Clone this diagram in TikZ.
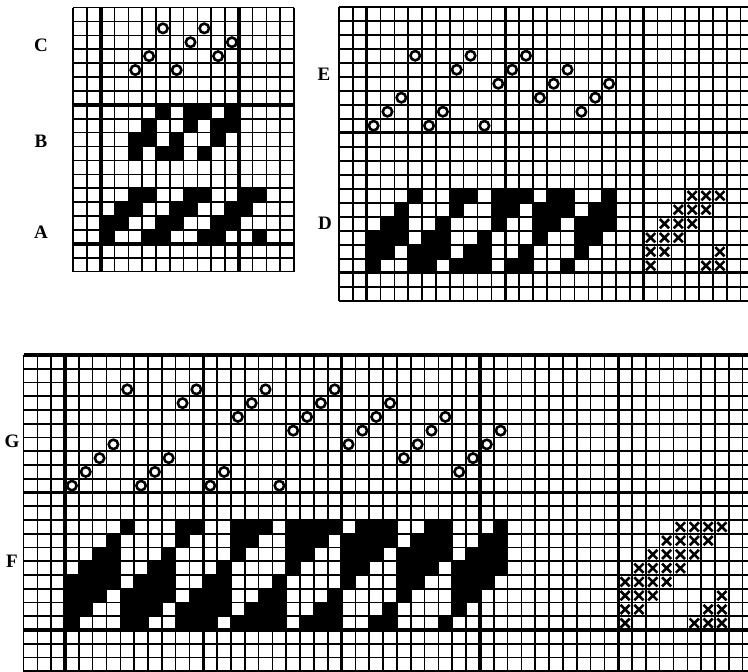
\documentclass[tikz,border=0pt]{standalone}
\usepackage{fontspec}
\setmainfont{Liberation Serif}
\begin{document}
\begin{tikzpicture}[
  x=0.5pt,
  y=-0.5pt,
  font=\bfseries\fontsize{9.5}{11}\selectfont,
  thinrule/.style={line width=0.8pt},
  thickrule/.style={line width=1.7pt},
  cell/.style={fill=black},
  ring/.style={draw, line width=1.3pt},
  cross/.style={draw, line width=1.3pt},
  letter/.style={inner sep=0pt}
]
\useasboundingbox (0,0) rectangle (748,671);

\foreach \i in {0,...,16} \draw[thinrule] ({73.2+13.8*\i},7.5) -- ({73.2+13.8*\i},271.6);
\foreach \j in {0,...,19} \draw[thinrule] (73.2,{7.5+13.9*\j}) -- (294,{7.5+13.9*\j});
\foreach \i in {2,12} \draw[thickrule] ({73.2+13.8*\i},7.5) -- ({73.2+13.8*\i},271.6);
\foreach \j in {7,17} \draw[thickrule] (73.2,{7.5+13.9*\j}) -- (294,{7.5+13.9*\j});
\foreach \r/\cols in {7/{4,6,7,9},8/{3,6,8,9},9/{2,3,5,8},10/{2,4,5,7},13/{2,3,6,7,10,11},14/{1,2,5,6,9,10},15/{0,1,4,5,8,9},16/{0,3,4,7,8,11}} {
  \foreach \c in \cols \fill[cell] ({100.8+13.8*\c},{7.5+13.9*\r}) rectangle ++(13.8,13.9);
}
\foreach \c/\r in {4/1,7/1,6/2,9/2,3/3,8/3,2/4,5/4}
  \draw[ring] ({100.8+13.8*(\c+0.5)},{7.5+13.9*(\r+0.5)}) circle[radius=4.7];

\foreach \i in {0,...,29} \draw[thinrule] ({339+13.85*\i},6.7) -- ({339+13.85*\i},300.7);
\foreach \j in {0,...,21} \draw[thinrule] (339,{6.7+14*\j}) -- (750,{6.7+14*\j});
\foreach \i in {2,12,22} \draw[thickrule] ({339+13.85*\i},6.7) -- ({339+13.85*\i},300.7);
\foreach \j in {9,19} \draw[thickrule] (339,{6.7+14*\j}) -- (750,{6.7+14*\j});
\foreach \r/\cols in {13/{3,6,7,9,10,11,13,14,17},14/{2,6,9,10,12,13,14,16,17},15/{1,2,5,9,12,13,15,16,17},16/{0,1,2,4,5,8,12,15,16},17/{0,1,3,4,5,7,8,11,15},18/{0,3,4,6,7,8,10,11,14}} {
  \foreach \c in \cols \fill[cell] ({366.7+13.85*\c},{6.7+14*\r}) rectangle ++(13.85,14);
}
\foreach \c/\s in {0/1,1/2,2/3,3/6,4/1,5/2,6/5,7/6,8/1,9/4,10/5,11/6,12/3,13/4,14/5,15/2,16/3,17/4}
  \draw[ring] ({366.7+13.85*(\c+0.5)},{6.7+14*(9.5-\s)}) circle[radius=4.7];
\foreach \r/\lift in {13/{4,5,6},14/{3,4,5},15/{2,3,4},16/{1,2,3},17/{1,2,6},18/{1,5,6}} {
  \foreach \s in \lift \draw[cross] ({366.7+13.85*(19.5+\s)},{6.7+14*(\r+0.5)}) ++(-4.6,-4.6) -- ++(9.2,9.2) ++(-9.2,0) -- ++(9.2,-9.2);
}

\foreach \i in {0,...,52} \draw[thinrule] ({23.5+13.83*\i},355) -- ({23.5+13.83*\i},672);
\foreach \j in {0,...,23} \draw[thinrule] (23.5,{355+13.75*\j}) -- (750,{355+13.75*\j});
\foreach \i in {3,13,23,33,43} \draw[thickrule] ({23.5+13.83*\i},355) -- ({23.5+13.83*\i},672);
\foreach \j in {0,10,20} \draw[thickrule] (23.5,{355+13.75*\j}) -- (750,{355+13.75*\j});
\foreach \r/\cols in {12/{4,8,9,12,13,14,16,17,18,19,21,22,23,26,27,31},13/{3,8,12,13,16,17,18,20,21,22,23,25,26,27,30,31},14/{2,3,7,12,16,17,20,21,22,24,25,26,27,29,30,31},15/{1,2,3,6,7,11,16,20,21,24,25,26,28,29,30,31},16/{0,1,2,3,5,6,7,10,11,15,20,24,25,28,29,30},17/{0,1,2,4,5,6,7,9,10,11,14,15,19,24,28,29},18/{0,1,4,5,6,8,9,10,11,13,14,15,18,19,23,28},19/{0,4,5,8,9,10,12,13,14,15,17,18,19,22,23,27}} {
  \foreach \c in \cols \fill[cell] ({65+13.83*\c},{355+13.75*\r}) rectangle ++(13.83,13.75);
}
\foreach \c/\s in {0/1,1/2,2/3,3/4,4/8,5/1,6/2,7/3,8/7,9/8,10/1,11/2,12/6,13/7,14/8,15/1,16/5,17/6,18/7,19/8,20/4,21/5,22/6,23/7,24/3,25/4,26/5,27/6,28/2,29/3,30/4,31/5}
  \draw[ring] ({65+13.83*(\c+0.5)},{355+13.75*(10.5-\s)}) circle[radius=4.7];
\foreach \r/\lift in {19/{1,6,7,8},18/{1,2,7,8},17/{1,2,3,8},16/{1,2,3,4},15/{2,3,4,5},14/{3,4,5,6},13/{4,5,6,7},12/{5,6,7,8}} {
  \foreach \s in \lift \draw[cross] ({65+13.83*(39.5+\s)},{355+13.75*(\r+0.5)}) ++(-4.6,-4.6) -- ++(9.2,9.2) ++(-9.2,0) -- ++(9.2,-9.2);
}

\node[letter] (labC) at (41,45) {C};
\node[letter] (labB) at (41,141) {B};
\node[letter] (labA) at (41,232) {A};
\node[letter] (labE) at (324,74) {E};
\node[letter] (labD) at (325,223) {D};
\node[letter] (labG) at (12,441) {G};
\node[letter] (labF) at (12,561) {F};
\end{tikzpicture}
\end{document}
